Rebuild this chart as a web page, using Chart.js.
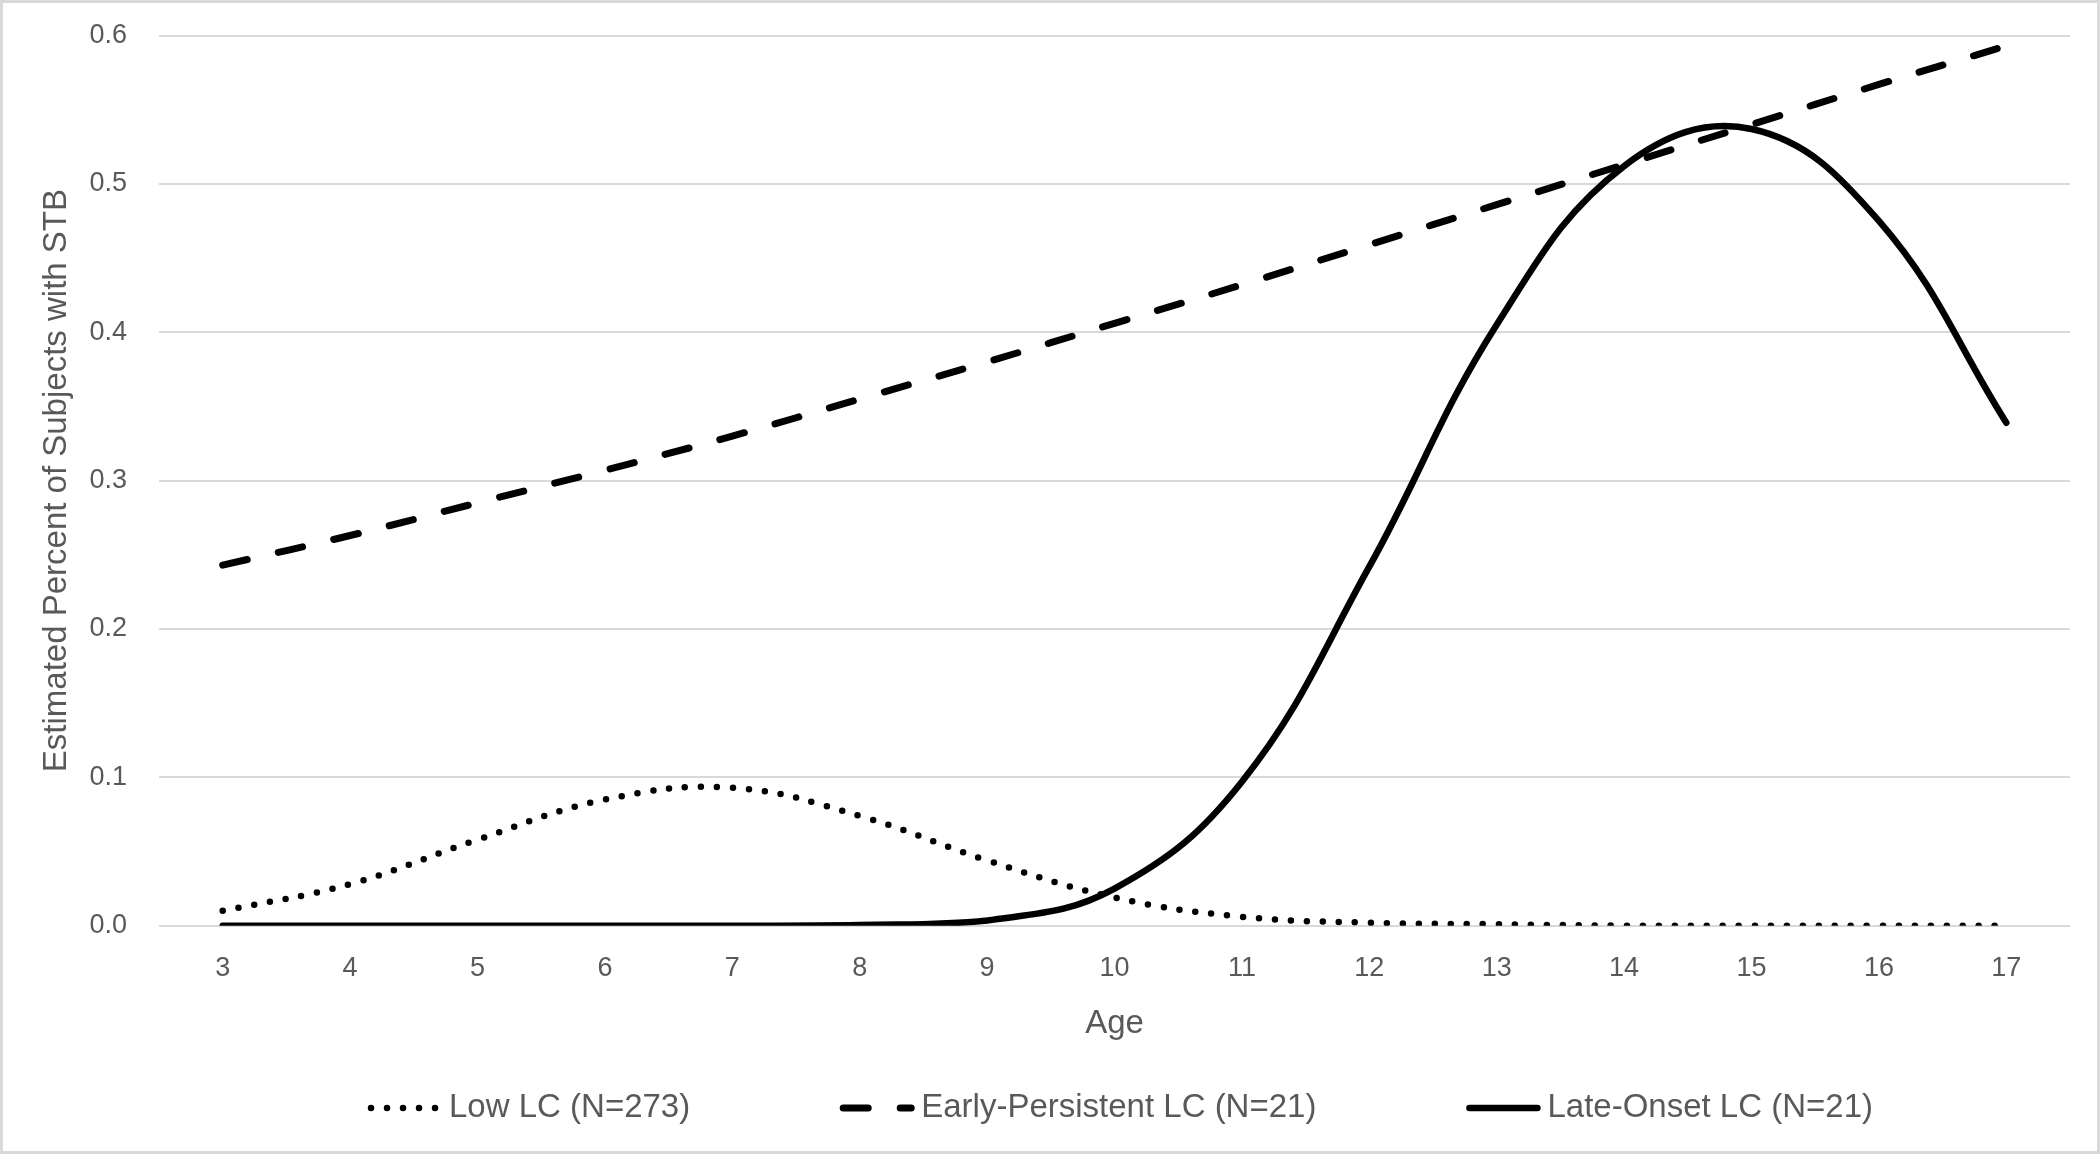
<!DOCTYPE html>
<html>
<head>
<meta charset="utf-8">
<title>Estimated Percent of Subjects with STB by Age</title>
<script src="https://cdn.jsdelivr.net/npm/chart.js@4.4.1/dist/chart.umd.min.js"></script>
<style>
  html, body { margin: 0; padding: 0; background: #fff; }
  #wrap { width: 2100px; height: 1154px; position: relative; }
</style>
</head>
<body>
<div id="wrap"><canvas id="stbChart" width="2100" height="1154"></canvas></div>
<script>
// Values
const ages = ['3', '4', '5', '6', '7', '8', '9', '10', '11', '12', '13', '14', '15', '16', '17'];
const lowLC = [0.010, 0.028, 0.058, 0.085, 0.093, 0.074, 0.044, 0.019, 0.006, 0.002, 0.001, 0.000, 0.000, 0.000, 0.000];
const earlyPersistentLC = [0.243, 0.263, 0.285, 0.307, 0.330, 0.355, 0.380, 0.406, 0.432, 0.459, 0.486, 0.513, 0.540, 0.567, 0.593];
const lateOnsetLC = [0.000, 0.000, 0.000, 0.000, 0.000, 0.0005, 0.0035, 0.025, 0.097, 0.242, 0.405, 0.512, 0.537, 0.475, 0.339];
const seriesNames = ['Low LC (N=273)', 'Early-Persistent LC (N=21)', 'Late-Onset LC (N=21)'];
const yTickLabels = ['0.0', '0.1', '0.2', '0.3', '0.4', '0.5', '0.6'];

const FONT = '"Liberation Sans", Arial, sans-serif';
const TEXT_GREY = '#595959';
const GRID_GREY = '#d9d9d9';

Chart.defaults.font.family = FONT;
Chart.defaults.color = TEXT_GREY;

// White background and thin grey frame round the whole picture
const frame = {
    id: 'frame',
    beforeDraw(chart) {
        const ctx = chart.ctx;
        ctx.save();
        ctx.fillStyle = '#fff';
        ctx.fillRect(0, 0, chart.width, chart.height);
        ctx.strokeStyle = GRID_GREY;
        ctx.lineWidth = 3;
        ctx.strokeRect(1.5, 1.5, chart.width - 3, chart.height - 3);
        ctx.restore();
    }
};

// Legend row under the axis title, Excel style (line sample right next to the text)
const bottomLegend = {
    id: 'bottomLegend',
    afterDraw(chart) {
        const ctx = chart.ctx;
        const area = chart.chartArea;
        const lineLen = 74, gap = 7, itemGap = 150;
        const y = chart.height - 46;
        ctx.save();
        ctx.font = '33px ' + FONT;
        const items = chart.data.datasets.map(ds => ({
            ds: ds,
            w: lineLen + gap + ctx.measureText(ds.label).width
        }));
        const total = items.reduce((s, it) => s + it.w, 0) + itemGap * (items.length - 1);
        let x = (area.left + area.right) / 2 - total / 2 + 6;
        items.forEach(it => {
            const ds = it.ds;
            ctx.beginPath();
            ctx.setLineDash(ds.borderDash || []);
            ctx.lineCap = ds.borderCapStyle || 'butt';
            ctx.lineWidth = ds.borderWidth;
            ctx.strokeStyle = ds.borderColor;
            ctx.moveTo(x + 3, y);
            ctx.lineTo(x + lineLen - 3, y);
            ctx.stroke();
            ctx.setLineDash([]);
            ctx.fillStyle = TEXT_GREY;
            ctx.textAlign = 'left';
            ctx.textBaseline = 'middle';
            ctx.fillText(ds.label, x + lineLen + gap, y);
            x += it.w + itemGap;
        });
        ctx.restore();
    }
};

const ctx = document.getElementById('stbChart').getContext('2d');
new Chart(ctx, {
    type: 'line',
    data: {
        labels: ages,
        datasets: [
            {
                label: seriesNames[0],
                data: lowLC,
                borderColor: '#000',
                borderWidth: 6.5,
                borderDash: [0, 16],
                borderCapStyle: 'round',
                tension: 0.4,
                pointRadius: 0,
                order: 3
            },
            {
                label: seriesNames[1],
                data: earlyPersistentLC,
                borderColor: '#000',
                borderWidth: 7,
                borderDash: [25, 32],
                borderCapStyle: 'round',
                tension: 0.4,
                pointRadius: 0,
                order: 2
            },
            {
                label: seriesNames[2],
                data: lateOnsetLC,
                borderColor: '#000',
                borderWidth: 6.5,
                borderCapStyle: 'round',
                tension: 0.4,
                pointRadius: 0,
                order: 1
            }
        ]
    },
    options: {
        responsive: false,
        animation: false,
        devicePixelRatio: 1,
        layout: {
            padding: { top: 35.5, right: 30, bottom: 108.3, left: 0 }
        },
        plugins: {
            legend: { display: false },
            tooltip: { enabled: false }
        },
        scales: {
            x: {
                offset: true,
                grid: { display: false, drawTicks: false },
                border: { display: false },
                ticks: {
                    font: { size: 27 },
                    color: TEXT_GREY,
                    padding: 27,
                    autoSkip: false,
                    maxRotation: 0
                },
                title: {
                    display: true,
                    text: 'Age',
                    font: { size: 33 },
                    color: TEXT_GREY,
                    padding: { top: 0, bottom: 2 }
                },
                afterFit(scale) {
                    scale.height = 120;
                }
            },
            y: {
                min: 0,
                max: 0.6,
                grid: { color: GRID_GREY, lineWidth: 2, drawTicks: false },
                border: { display: false },
                ticks: {
                    stepSize: 0.1,
                    font: { size: 27 },
                    color: TEXT_GREY,
                    padding: 32,
                    callback: (value, index) => yTickLabels[index]
                },
                title: {
                    display: true,
                    text: 'Estimated Percent of Subjects with STB',
                    font: { size: 33 },
                    color: TEXT_GREY,
                    padding: { top: 37, bottom: 0 }
                },
                afterFit(scale) {
                    scale.width = 159;
                    // the label padding should not push the plot area down
                    scale.paddingTop = 0;
                    scale.paddingBottom = 0;
                }
            }
        }
    },
    plugins: [frame, bottomLegend]
});
</script>
</body>
</html>
